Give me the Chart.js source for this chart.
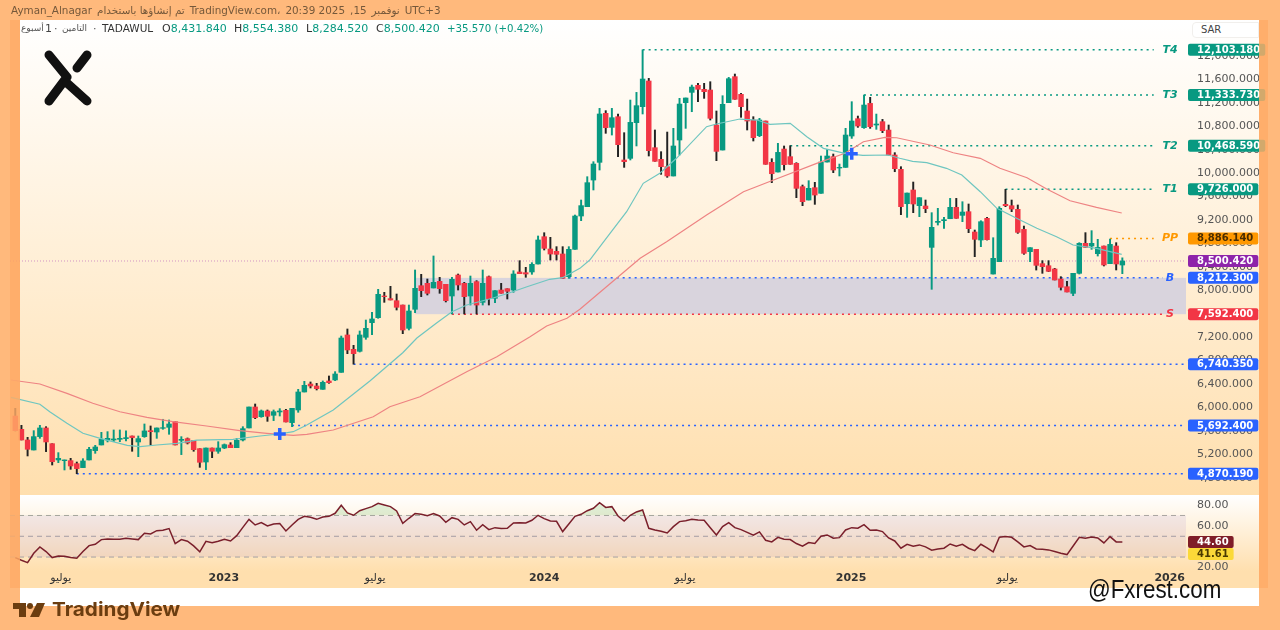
<!DOCTYPE html>
<html lang="ar">
<head>
<meta charset="utf-8">
<title>TADAWUL</title>
<script src="https://cdn.jsdelivr.net/npm/chart.js@4/dist/chart.umd.js"></script>
<style>
  html, body { margin: 0; padding: 0; background: #ffb97c; width: 1280px; height: 630px; overflow: hidden; }
  body { position: relative; font-family: "DejaVu Sans", sans-serif; }
  canvas { position: absolute; left: 0; top: 0; }
  .txt { position: absolute; white-space: nowrap; }
  #stamp { left: 11px; top: 4px; font-size: 10.4px; color: #75583a; display: flex; gap: 5px; }
  #sar { left: 1192px; top: 22px; width: 67px; height: 16px; box-sizing: border-box; background: #fff; border: 1px solid #f1efec; border-radius: 4px 0 0 4px; font-size: 10px; line-height: 14px; padding-left: 8px; color: #444; }
  .hd { top: 22px; font-size: 11px; line-height: 13px; color: #089981; }
  .hd b { font-weight: normal; color: #333; }
  #fx { left: 1088px; top: 574px; font-family: "Liberation Sans", sans-serif; font-size: 26px; line-height: 30px; color: #111; transform: scaleX(0.86); transform-origin: left center; }
  #tv { left: 52px; top: 599px; font-family: Inter, sans-serif; font-weight: 700; font-size: 19px; line-height: 22px; color: #6b3d10; transform: scaleX(1.09); transform-origin: left center; }
  svg { position: absolute; }
</style>
</head>
<body>
<canvas id="tasiChart" width="1280" height="630"></canvas>

<div class="txt" id="stamp"><span>Ayman_Alnagar</span><span>تم إنشاؤها باستخدام</span><span>TradingView.com،</span><span>20:39 2025</span><span>,15</span><span>نوفمبر</span><span>UTC+3</span></div>
<div class="txt hd" style="left:21px;color:#555;font-size:9px">أسبوع</div>
<div class="txt hd" style="left:45px;color:#444">1</div>
<div class="txt hd" style="left:54px;color:#555">·</div>
<div class="txt hd" style="left:62px;color:#555;font-size:9px">التامين</div>
<div class="txt hd" style="left:93px;color:#555">·</div>
<div class="txt hd" style="left:102px;color:#333;font-size:10.5px">TADAWUL</div>
<div class="txt hd" style="left:162px"><b>O</b>8,431.840</div>
<div class="txt hd" style="left:234px"><b>H</b>8,554.380</div>
<div class="txt hd" style="left:306px"><b>L</b>8,284.520</div>
<div class="txt hd" style="left:376px"><b>C</b>8,500.420</div>
<div class="txt hd" style="left:447px;font-size:10.2px">+35.570 (+0.42%)</div>
<div class="txt" id="sar">SAR</div>

<svg style="left:0;top:0" width="120" height="120" fill="none" stroke="#111" stroke-width="9" stroke-linecap="round" stroke-linejoin="round">
  <path d="M49 55 L67 77 L49 101"/>
  <path d="M87 55 L77 68"/>
  <path d="M67 83 L87 101"/>
</svg>

<svg style="left:13px;top:603px" width="32" height="14" fill="#6b3d10">
  <path d="M0 0 H13 V14 H6 V6 H0 Z"/>
  <circle cx="17" cy="3" r="3"/>
  <path d="M24 0 H32 L26 14 H17 Z"/>
</svg>
<div class="txt" id="tv">TradingView</div>
<div class="txt" id="fx">@Fxrest.com</div>

<script>
// weekly candles
const opens = [
  5855,5628,5446,5275,5503,5651,5383,5105,5093,5093,
  5042,4974,5105,5264,5361,5446,5446,5457,5469,5514,
  5412,5503,5605,5582,5645,5662,5759,5440,5469,5440,
  5298,5070,5309,5253,5309,5361,5315,5446,5651,6009,
  5844,5941,5867,5924,5952,5742,5958,6265,6401,6367,
  6310,6453,6470,6600,7238,6993,6959,7198,7448,7533,
  7903,7858,7823,7749,7351,7676,8079,8119,8040,8153,
  8102,7903,8261,8119,7903,8148,7795,8233,7863,8005,
  8028,8005,8313,8301,8313,8449,8915,8705,8665,8620,
  8233,8699,9268,9427,9882,10184,11020,10781,10963,10224,
  10252,10861,11134,11572,10434,10235,10110,9951,10565,11202,
  11378,11498,11430,11418,10821,10394,11202,11646,11344,11060,
  10906,10639,10889,10184,10019,10411,10281,10167,9769,9541,
  9752,9655,10189,10281,10087,10098,10633,10929,10775,11190,
  10821,10878,10735,10309,10064,9478,9712,9444,9439,8733,
  9160,9188,9222,9416,9279,9342,8995,8858,9228,8278,
  8489,9467,9444,9382,9040,8659,8699,8455,8420,8364,
  8193,8062,7948,8290,8802,8756,8625,8756,8455,8756,8431.84
];
const highs = [
  5986,5696,5491,5605,5696,5673,5383,5230,5105,5133,
  5070,5127,5321,5355,5577,5588,5617,5617,5600,5514,
  5514,5719,5685,5651,5799,5787,5759,5503,5480,5440,
  5298,5309,5309,5417,5378,5400,5474,5673,6009,6060,
  5958,5958,5958,5981,5969,5986,6310,6447,6436,6413,
  6453,6538,6612,7220,7340,7061,7306,7493,7624,8017,
  7966,8068,7937,7749,7749,8347,8273,8193,8586,8222,
  8102,8222,8278,8136,8244,8165,8347,8244,7994,8119,
  8028,8335,8506,8392,8472,8927,8983,8904,8745,8745,
  8745,9285,9541,9939,10195,11105,11066,11105,11009,10690,
  11247,11378,12103,11617,10736,10366,10701,10764,11276,11282,
  11503,11532,11532,11560,11060,11321,11634,11691,11361,11264,
  10963,10935,10889,10246,10508,10463,10468,10178,9797,9871,
  9843,10292,10406,10326,10155,10764,11219,10974,11333,11293,
  11008,10917,10821,10349,10110,9660,9848,9581,9541,9325,
  9399,9245,9569,9569,9512,9473,9029,9188,9245,8898,
  9427,9723,9541,9456,9097,8728,8699,8506,8506,8375,
  8233,8153,8290,8813,8984,9018,8870,8756,8875,8813,8554.38
];
const lows = [
  5600,5446,5173,5275,5474,5247,5019,5059,4934,4945,
  4870,4974,5105,5218,5361,5412,5417,5417,5429,5253,
  5161,5491,5361,5474,5628,5543,5361,5196,5378,5253,
  4979,4940,5144,5218,5298,5315,5315,5429,5651,5810,
  5833,5764,5776,5855,5753,5673,5918,6265,6333,6299,
  6310,6413,6458,6600,6919,6740,6947,7164,7243,7522,
  7795,7835,7664,7260,7323,7619,7892,7920,8040,7949,
  7801,7596,8005,7596,7749,7596,7749,7749,7789,7949,
  7852,7966,8284,8222,8273,8449,8688,8517,8517,8205,
  8205,8699,9188,9427,9712,10053,10679,10650,10281,10098,
  10224,10463,11009,10292,10201,9979,9928,9951,10309,10764,
  11048,11219,11276,10906,10212,10394,11202,11259,10952,10736,
  10548,10622,10150,9837,10019,10053,10150,9581,9444,9541,
  9467,9655,10189,10008,9951,10098,10593,10781,10764,10764,
  10747,10690,10309,10024,9291,9245,9325,9257,9325,8017,
  9114,9058,9222,9228,9171,8984,8574,8745,8858,8278,
  8489,9427,9342,8972,8614,8489,8346,8290,8318,8176,
  8005,7971,7909,8278,8733,8699,8585,8415,8455,8347,8284.52
];
const closes = [
  5605,5446,5287,5503,5651,5412,5076,5133,5105,5002,
  4957,5088,5287,5326,5457,5474,5463,5474,5486,5486,
  5469,5600,5588,5651,5656,5719,5361,5457,5395,5281,
  5065,5309,5253,5309,5366,5315,5440,5639,6009,5827,
  5941,5850,5929,5941,5753,5986,6265,6379,6367,6322,
  6430,6424,6572,7186,6982,6919,7238,7351,7511,7932,
  7892,7835,7710,7323,7647,8034,7994,7949,8136,8028,
  7823,8187,8091,7892,8119,7749,8119,7858,7994,7949,
  7983,8278,8284,8278,8443,8859,8716,8619,8614,8205,
  8699,9268,9445,9837,10155,11009,10775,10946,10485,10195,
  10866,11151,11606,10383,10201,10110,9951,10463,11179,11282,
  11469,11430,11390,10935,10371,11174,11611,11259,11134,10889,
  10605,10906,10150,9990,10354,10144,10150,9740,9513,9740,
  9626,10189,10292,10053,10098,10650,10889,10804,11162,10792,
  10838,10724,10309,10076,9427,9660,9473,9581,9393,9075,
  9177,9205,9416,9228,9336,9052,8870,9171,8864,8546,
  9399,9444,9387,8989,8631,8728,8426,8403,8324,8176,
  8051,7971,8290,8802,8733,8802,8733,8432,8784,8449,8500.42
];

// moving averages, read at the bends of each line (bar number, price)
const fastMaBars = [-0.7,4,5.6,8.4,11,13.8,18.2,20.3,23,26.3,29.5,35.4,39.8,42.9,45.2,47.4,51.7,57.7,63,65.3,68.5,71,73.4,77.7,80.4,83.2,86.9,89,91.8,93.4,96.7,99.4,102.1,104.8,107.5,112.4,114,117.8,120.6,122.7,126,128.7,131.4,134.9,137.8,141.9,143.8,145.9,148.2,151.4,153.9,156.9,159.6,162.8,166.1,169.3,172,175.8,179.9];
const fastMaValues = [6174,6055,5928,5730,5560,5474,5355,5331,5360,5389,5445,5457,5514,5548,5587,5701,5957,6457,6935,7186,7442,7635,7749,7869,7959,8061,8188,8215,8375,8517,8973,9341,9826,9997,10253,10792,10838,10923,10906,10833,10850,10621,10423,10338,10304,10309,10253,10201,10178,10082,9968,9683,9399,9229,9058,8915,8773,8717,8614];
const slowMaBars = [-0.7,4,8.4,12.6,17,21.4,25.6,31.1,36.5,40.9,45.2,47.4,51.7,58.2,60.9,65.8,73.4,78.3,83.7,86.4,89.7,91.8,101.6,105.9,112.4,118.4,123.3,130.3,134.9,137.9,141.4,143.3,148.7,152.5,156.9,160.1,164.5,167.7,171.5,175.8,179.9];
const slowMaValues = [6469,6401,6242,6072,5928,5833,5758,5684,5604,5560,5526,5543,5616,5843,6014,6184,6611,6867,7208,7391,7522,7676,8546,8829,9285,9683,9882,10167,10338,10536,10611,10604,10480,10348,10253,10082,9922,9729,9529,9416,9319];

// blue cross marks
const crossBars = [43, 136];
const crossValues = [5548, 10330];

// price levels
const levelNames = ["T4","T3","T2","T1","PP","B","S","","",""];
const levelValues = [12103.18,11333.73,10468.59,9726,8886.14,8212.3,7592.4,6740.35,5692.4,4870.19];
const levelStartBars = [102,138,126,161,178,89,71,55,45,10];
const levelEndBars = [185.1,185.1,185.1,185.1,185.1,186.6,186.6,190.3,190.3,190.3];
const levelColors = ["#089981","#089981","#089981","#089981","#ff9800","#2962ff","#f23645","#2962ff","#2962ff","#2962ff"];
const lastPrice = 8500.42;
const zoneStartBar = 65;

// RSI, one value per bar
const rsi = [
  29.5,27.0,24.7,33.7,39.8,35.3,29.5,31.1,30.8,29.5,
  28.9,35.3,41.0,42.3,46.8,47.4,47.1,47.1,48.1,47.4,
  46.8,52.9,52.2,55.4,55.8,57.4,43.0,46.8,45.2,40.7,
  35.0,45.2,43.9,45.2,47.1,45.5,50.6,58.6,66.3,60.9,
  63.1,59.9,61.8,62.2,55.1,60.9,66.3,69.2,68.2,66.3,
  68.6,69.2,72.1,79.8,72.4,70.2,74.6,76.6,78.5,81.7,
  80.1,78.5,74.3,62.5,67.3,71.8,71.1,69.8,71.8,69.5,
  63.4,67.9,66.3,60.9,64.1,55.8,61.2,56.4,58.3,57.4,
  57.7,62.8,63.1,62.8,65.4,70.2,67.0,64.7,64.4,54.5,
  61.8,69.2,71.1,74.6,76.9,82.3,77.8,78.5,69.5,64.7,
  70.2,73.4,75.3,57.7,56.1,54.8,53.2,59.3,64.1,65.0,
  66.3,65.7,65.4,58.3,51.3,59.3,63.1,58.3,56.4,53.8,
  51.0,54.2,46.2,44.6,49.0,47.1,46.8,43.0,40.4,43.9,
  43.0,50.0,51.3,48.1,48.7,56.1,58.3,57.7,61.2,55.8,
  56.1,54.5,48.4,45.5,38.5,42.3,40.4,41.7,39.8,36.6,
  37.8,38.5,42.6,40.4,42.3,38.5,36.2,42.3,38.8,35.0,
  49.0,49.7,49.0,44.6,39.8,41.0,37.8,37.5,36.9,35.3,
  33.7,32.4,40.7,49.0,48.1,49.4,48.4,43.6,49.7,44.6,44.6
];
const rsiLast = 44.6;
const rsiMaLast = 41.61;
const rsiLevels = [70, 50, 30];

// axis ticks
const priceTicks = [4800,5200,5600,6000,6400,6800,7200,7600,8000,8400,8800,9200,9600,10000,10400,10800,11200,11600,12000];
const rsiTicks = [20,40,60,80];
const timeTickBars = [7.4,33.9,58.5,86,108.9,135.9,161.3,187.7];
const timeTickLabels = ["يوليو","2023","يوليو","2024","يوليو","2025","يوليو","2026"];

const UP = "#089981";
const DOWN = "#f23645";
const WICK_DOWN = "#222222";
const X_MIN = -0.86;
const X_MAX = 190.35;

function money(v) {
  return v.toLocaleString("en-US", { minimumFractionDigits: 3, maximumFractionDigits: 3 });
}

const candleBars = closes.map((c, i) => i);
const isUp = closes.map((c, i) => c >= opens[i]);

const datasets = [];

// cross marks sit on top
datasets.push({
  type: "scatter", yAxisID: "y", order: 0,
  data: crossBars.map((b, i) => ({ x: b, y: crossValues[i] })),
  pointStyle: "cross", pointRadius: 6, borderWidth: 3.5,
  borderColor: "#2962ff", backgroundColor: "#2962ff",
});
datasets.push({
  type: "line", yAxisID: "y", order: 1,
  data: fastMaBars.map((b, i) => ({ x: b, y: fastMaValues[i] })),
  borderColor: "#6fc6c0", borderWidth: 1.2, pointRadius: 0,
});
datasets.push({
  type: "line", yAxisID: "y", order: 1,
  data: slowMaBars.map((b, i) => ({ x: b, y: slowMaValues[i] })),
  borderColor: "#ee8383", borderWidth: 1.2, pointRadius: 0,
});
datasets.push({
  type: "bar", yAxisID: "y", order: 2, grouped: false, barThickness: 4.8,
  data: candleBars.map(i => ({ x: i, y: [opens[i], closes[i]] })),
  backgroundColor: isUp.map(u => (u ? UP : DOWN)),
});
datasets.push({
  type: "bar", yAxisID: "y", order: 3, grouped: false, barThickness: 1.3,
  data: candleBars.map(i => ({ x: i, y: [lows[i], highs[i]] })),
  backgroundColor: isUp.map(u => (u ? UP : WICK_DOWN)),
});
levelValues.forEach((v, i) => {
  datasets.push({
    type: "line", yAxisID: "y", order: 4,
    data: [{ x: levelStartBars[i], y: v }, { x: levelEndBars[i], y: v }],
    borderColor: levelColors[i], borderWidth: 1.5, borderDash: [2, 4], pointRadius: 0,
  });
});
datasets.push({
  type: "line", yAxisID: "y", order: 5,
  data: [{ x: X_MIN, y: lastPrice }, { x: X_MAX, y: lastPrice }],
  borderColor: "rgba(156,39,176,0.45)", borderWidth: 1, borderDash: [1, 2], pointRadius: 0,
});

// RSI pane
datasets.push({
  type: "line", yAxisID: "yRsi", order: 1,
  data: rsi.map((v, i) => ({ x: i, y: v })),
  borderColor: "#7a1f2b", borderWidth: 1.5, pointRadius: 0,
  fill: { target: { value: 70 }, above: "rgba(76,175,80,0.18)", below: "rgba(0,0,0,0)" },
});
rsiLevels.forEach((v) => {
  datasets.push({
    type: "line", yAxisID: "yRsi", order: 6,
    data: [{ x: X_MIN, y: v }, { x: X_MAX, y: v }],
    borderColor: "#a9a5a1", borderWidth: 1, borderDash: [5, 4], pointRadius: 0,
    fill: v === 70 ? { target: { value: 30 }, above: "rgba(126,87,194,0.1)" } : false,
  });
});

const framePlugin = {
  id: "frame",
  beforeDraw(chart) {
    const c = chart.ctx;
    c.save();
    c.fillStyle = "#ffffff";
    c.fillRect(20, 20, 1239, 586);
    let g = c.createLinearGradient(0, 20, 0, 495);
    g.addColorStop(0, "#ffffff");
    g.addColorStop(1, "#ffdfae");
    c.fillStyle = g;
    c.fillRect(20, 20, 1239, 475);
    g = c.createLinearGradient(0, 495, 0, 571);
    g.addColorStop(0, "#ffffff");
    g.addColorStop(1, "#ffdfae");
    c.fillStyle = g;
    c.fillRect(20, 495, 1239, 76);
    c.fillStyle = "#ffdfae";
    c.fillRect(20, 571, 1239, 17);
    c.restore();
  },
  beforeDatasetsDraw(chart) {
    // grey box between the S and B levels
    const c = chart.ctx;
    const { x, y } = chart.scales;
    const top = y.getPixelForValue(levelValues[5]);
    const bottom = y.getPixelForValue(levelValues[6]);
    const left = x.getPixelForValue(zoneStartBar);
    c.save();
    c.fillStyle = "#d9d4dd";
    c.fillRect(left, top, x.getPixelForValue(X_MAX) - left, bottom - top);
    c.restore();
  },
  afterDraw(chart) {
    const c = chart.ctx;
    const { y, yRsi } = chart.scales;
    c.save();
    c.textBaseline = "middle";

    function tag(py, text, bg, fg, left, textX) {
      c.font = "bold 10px 'DejaVu Sans'";
      const w = c.measureText(text).width;
      c.fillStyle = bg;
      c.beginPath();
      c.roundRect(left, py - 6, textX + w + 5 - left, 12, 2);
      c.fill();
      c.fillStyle = fg;
      c.textAlign = "left";
      c.fillText(text, textX, py + 0.5);
    }

    tag(y.getPixelForValue(lastPrice), money(lastPrice), "#8e24aa", "#ffffff", 1188, 1197);
    levelValues.forEach((v, i) => {
      const py = y.getPixelForValue(v);
      const fg = levelNames[i] === "PP" ? "#4a2d00" : "#ffffff";
      tag(py, money(v), levelColors[i], fg, 1188, 1197);
      if (levelNames[i]) {
        c.font = "italic bold 11px 'DejaVu Sans'";
        c.fillStyle = levelColors[i];
        c.textAlign = "center";
        c.fillText(levelNames[i], 1170, py);
      }
    });

    const rsiY = yRsi.getPixelForValue(rsiLast);
    tag(rsiY, rsiLast.toFixed(2), "#7f1d28", "#ffffff", 1188, 1197);
    tag(rsiY + 12, rsiMaLast.toFixed(2), "#fbd938", "#4a3a00", 1188, 1197);

    // darker strips on both sides of the panel
    c.fillStyle = "rgba(255,172,104,0.82)";
    c.fillRect(10, 20, 10, 568);
    c.fillRect(1259, 20, 9, 568);
    c.restore();
  },
};

new Chart(document.getElementById("tasiChart").getContext("2d"), {
  type: "bar",
  data: { datasets },
  plugins: [framePlugin],
  options: {
    responsive: false,
    animation: false,
    layout: { padding: { left: 10, top: 20, right: 0, bottom: 0 } },
    plugins: { legend: { display: false }, tooltip: { enabled: false } },
    elements: { line: { tension: 0 } },
    scales: {
      x: {
        type: "linear",
        offset: false,
        min: X_MIN,
        max: X_MAX,
        grid: { display: false, drawTicks: false, tickLength: 0 },
        border: { display: false },
        afterBuildTicks(scale) {
          scale.ticks = timeTickBars.map((b) => ({ value: b }));
        },
        afterFit(scale) { scale.height = 59; },
        ticks: {
          autoSkip: false,
          maxRotation: 0,
          padding: 1,
          color: "#333",
          font: (ctx) => ({
            family: "'DejaVu Sans'",
            size: 11,
            weight: /^\d+$/.test(String(ctx.tick && ctx.tick.label)) ? "bold" : "normal",
          }),
          callback(value) {
            return timeTickLabels[timeTickBars.indexOf(value)];
          },
        },
      },
      y: {
        position: "right",
        stack: "panes",
        stackWeight: 475,
        weight: 0,
        min: 4507,
        max: 12613,
        grid: { display: false, drawTicks: false, tickLength: 0 },
        border: { display: false },
        afterBuildTicks(scale) {
          scale.ticks = priceTicks.map((v) => ({ value: v }));
        },
        afterFit(scale) { scale.width = 94; },
        ticks: {
          autoSkip: false,
          crossAlign: "near",
          padding: 11,
          color: "#555",
          font: { family: "'DejaVu Sans'", size: 11 },
          callback: (v) => money(v),
        },
      },
      yRsi: {
        position: "right",
        stack: "panes",
        stackWeight: 76,
        weight: 1,
        min: 16.6,
        max: 89.7,
        grid: { display: false, drawTicks: false, tickLength: 0 },
        border: { display: false },
        afterBuildTicks(scale) {
          scale.ticks = rsiTicks.map((v) => ({ value: v }));
        },
        afterFit(scale) { scale.width = 94; },
        ticks: {
          autoSkip: false,
          crossAlign: "near",
          padding: 11,
          color: "#555",
          font: { family: "'DejaVu Sans'", size: 11 },
          callback: (v) => v.toFixed(2),
        },
      },
    },
  },
});
</script>
</body>
</html>
